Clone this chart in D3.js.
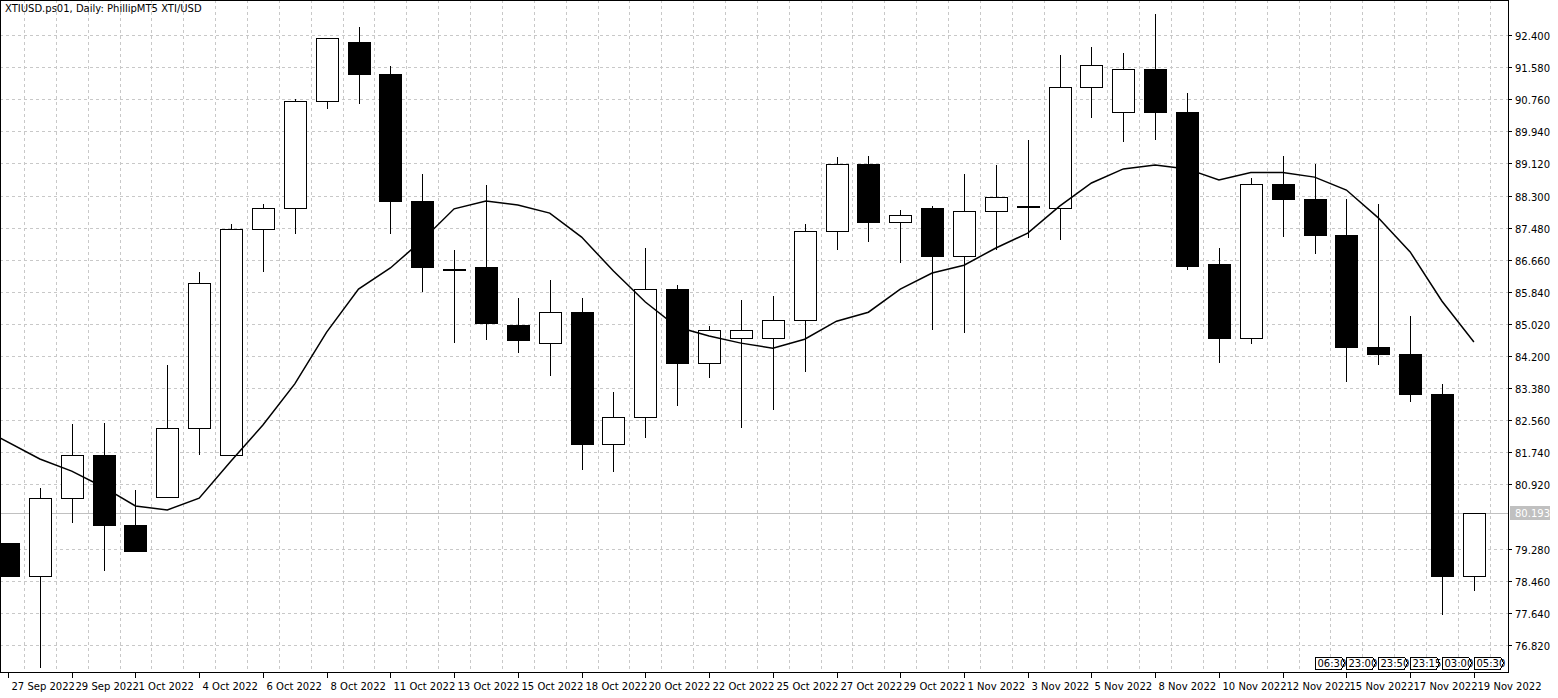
<!DOCTYPE html><html><head><meta charset="utf-8"><script src="https://cdn.jsdelivr.net/npm/d3@7"></script>
<style>body{margin:0;background:#fff}svg{display:block;font-family:"DejaVu Sans",sans-serif;font-size:10px}</style></head><body><svg id="c" width="1558" height="698"></svg><script>
const dates=["26 Sep 2022","27 Sep 2022","28 Sep 2022","29 Sep 2022","30 Sep 2022","1 Oct 2022","3 Oct 2022","4 Oct 2022","5 Oct 2022","6 Oct 2022","7 Oct 2022","8 Oct 2022","10 Oct 2022","11 Oct 2022","12 Oct 2022","13 Oct 2022","14 Oct 2022","15 Oct 2022","17 Oct 2022","18 Oct 2022","19 Oct 2022","20 Oct 2022","21 Oct 2022","22 Oct 2022","24 Oct 2022","25 Oct 2022","26 Oct 2022","27 Oct 2022","28 Oct 2022","29 Oct 2022","31 Oct 2022","1 Nov 2022","2 Nov 2022","3 Nov 2022","4 Nov 2022","5 Nov 2022","7 Nov 2022","8 Nov 2022","9 Nov 2022","10 Nov 2022","11 Nov 2022","12 Nov 2022","14 Nov 2022","15 Nov 2022","16 Nov 2022","17 Nov 2022","19 Nov 2022"];
const xLabels=["27 Sep 2022","29 Sep 2022","1 Oct 2022","4 Oct 2022","6 Oct 2022","8 Oct 2022","11 Oct 2022","13 Oct 2022","15 Oct 2022","18 Oct 2022","20 Oct 2022","22 Oct 2022","25 Oct 2022","27 Oct 2022","29 Oct 2022","1 Nov 2022","3 Nov 2022","5 Nov 2022","8 Nov 2022","10 Nov 2022","12 Nov 2022","15 Nov 2022","17 Nov 2022","19 Nov 2022"];
const open =[79.42,78.58,80.57,81.67,79.86,80.60,82.34,81.67,87.44,87.98,90.71,92.20,91.38,88.16,86.42,86.45,84.99,84.51,85.32,81.93,82.62,85.91,84.02,84.66,84.66,85.12,87.37,89.08,87.62,87.98,86.75,87.90,88.03,87.98,91.07,90.43,91.51,90.43,86.55,84.66,88.57,88.21,87.27,84.43,84.25,83.23,78.56];
const high =[79.42,80.83,82.46,82.49,80.78,83.97,86.35,87.57,88.08,90.77,92.30,92.60,91.61,88.85,86.91,88.57,85.68,86.14,85.68,83.28,86.96,86.01,84.97,85.63,85.73,87.57,89.28,89.31,87.93,88.03,88.85,89.08,89.72,91.89,92.09,91.94,92.94,90.92,86.96,88.75,89.31,89.10,88.21,88.08,85.22,83.49,80.19];
const low  =[78.58,76.23,79.93,78.71,79.22,80.60,81.67,84.81,86.35,87.32,90.51,90.64,87.32,85.84,84.53,84.61,84.28,83.69,81.29,81.24,82.11,82.92,83.64,82.36,82.82,83.79,86.91,87.11,86.58,84.86,84.79,86.91,87.22,87.16,90.28,89.67,89.72,86.40,84.02,84.51,87.24,86.81,83.54,83.97,83.03,77.58,78.20];
const close=[78.58,80.55,81.67,79.86,79.22,82.34,86.06,87.44,87.98,90.71,92.30,91.38,88.16,86.45,86.40,85.02,84.61,85.30,81.93,82.62,85.91,84.02,84.86,84.86,85.12,87.37,89.08,87.60,87.78,86.75,87.90,88.26,88.03,91.07,91.63,91.51,90.43,86.50,84.66,88.57,88.19,87.27,84.43,84.25,83.23,78.56,80.19];
const ma=[82.11,81.57,81.26,80.85,80.37,80.27,80.57,81.52,82.44,83.49,84.81,85.91,86.45,87.16,87.96,88.16,88.06,87.85,87.24,86.37,85.58,84.94,84.71,84.53,84.40,84.63,85.09,85.32,85.91,86.32,86.52,86.96,87.34,88.03,88.62,88.98,89.08,88.98,88.70,88.89,88.89,88.77,88.44,87.73,86.86,85.60,84.56];
const maX=[-0.25].concat(d3.range(1,47));
const yTicks=[92.4,91.58,90.76,89.94,89.12,88.3,87.48,86.66,85.84,85.02,84.2,83.38,82.56,81.74,80.92,79.28,78.46,77.64,76.82];
const timeBoxes=["06:30","23:00","23:50","23:15","03:00","05:30"];
const lastPrice=80.193;

const svg=d3.select("#c");
const W=1508,H=672;
const x=d3.scaleLinear().domain([-0.25,47.07]).range([0,W]);
const y=d3.scaleLinear().domain([92.4,76.82]).range([35,645]);
const g=svg.append("g");
g.append("defs").append("clipPath").attr("id","cp").append("rect").attr("width",W).attr("height",H);
// grid
const grid=g.append("g").attr("stroke","#c8c8c8").attr("stroke-dasharray","3,3").attr("shape-rendering","crispEdges");
d3.range(0,47).forEach(i=>{const xx=Math.round(x(i+0.5))+0.5;if(xx<W)grid.append("line").attr("x1",xx).attr("x2",xx).attr("y1",0).attr("y2",H);});
yTicks.forEach(t=>grid.append("line").attr("x1",0).attr("x2",W).attr("y1",Math.round(y(t))+0.5).attr("y2",Math.round(y(t))+0.5));
// last price line
g.append("line").attr("x1",0).attr("x2",W).attr("y1",Math.round(y(lastPrice))+0.5).attr("y2",Math.round(y(lastPrice))+0.5).attr("stroke","#c0c0c0");
const plot=g.append("g").attr("clip-path","url(#cp)").attr("shape-rendering","crispEdges");
dates.forEach((d,i)=>{
 const cx=Math.round(x(i))+0.5;
 plot.append("line").attr("x1",cx).attr("x2",cx).attr("y1",y(high[i])).attr("y2",y(low[i])).attr("stroke","#000");
 const up=close[i]>=open[i];
 const t=y(Math.max(open[i],close[i])),b=y(Math.min(open[i],close[i]));
 plot.append("rect").attr("x",cx-11).attr("y",t).attr("width",22).attr("height",Math.max(1,b-t)).attr("fill",up?"#fff":"#000").attr("stroke","#000");
});
plot.append("path").datum(ma).attr("fill","none").attr("stroke","#000").attr("stroke-width",1.5).attr("shape-rendering","auto")
 .attr("d",d3.line().x((d,i)=>x(maX[i])).y(d=>y(d)));
// frame
g.append("rect").attr("x",0.5).attr("y",0.5).attr("width",W-0.5).attr("height",H-0.5).attr("fill","none").attr("stroke","#000").attr("shape-rendering","crispEdges");
// title
g.append("text").attr("x",5).attr("y",12).text("XTIUSD.ps01, Daily:  PhillipMT5 XTI/USD");
// y axis
yTicks.forEach(t=>{const yy=Math.round(y(t))+0.5;
 g.append("line").attr("x1",W).attr("x2",W+4).attr("y1",yy).attr("y2",yy).attr("stroke","#000");
 g.append("text").attr("x",W+7).attr("y",yy+4).text(d3.format(",.3f")(t));});
const ly=Math.round(y(lastPrice));
g.append("rect").attr("x",W+2).attr("y",ly-7).attr("width",40).attr("height",14).attr("fill","#c0c0c0");
g.append("text").attr("x",W+7).attr("y",ly+4).attr("fill","#fff").text(lastPrice.toFixed(3));
// x axis
xLabels.forEach((l,k)=>{const i=k*2;const xx=Math.round(x(i))+0.5;
 g.append("line").attr("x1",xx).attr("x2",xx).attr("y1",H).attr("y2",H+6).attr("stroke","#000");
 g.append("text").attr("x",xx+3).attr("y",H+18).text(l);});
// time boxes
timeBoxes.forEach((t,k)=>{const i=41+k;const xx=Math.round(x(i))+0.5;
 g.append("path").attr("d",`M${xx},${H-15}h26l3,6l-3,6h-26z`).attr("fill","#fff").attr("stroke","#000").attr("shape-rendering","crispEdges");
 g.append("text").attr("x",xx+2).attr("y",H-5).text(t);});
</script></body></html>
